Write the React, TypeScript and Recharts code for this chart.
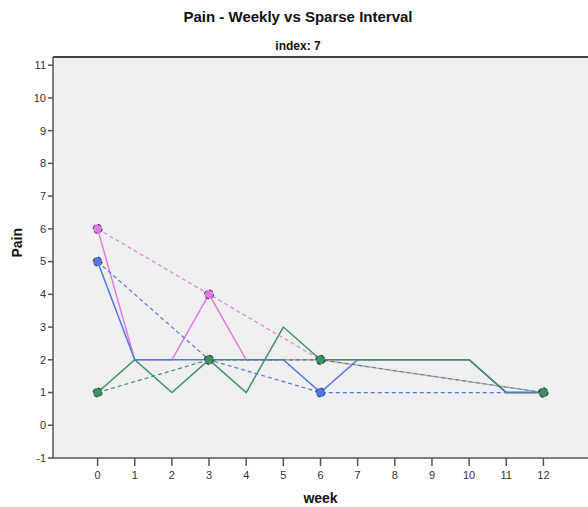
import { LineChart, Line, XAxis, YAxis, CartesianGrid, ReferenceLine } from "recharts";

const weeks = [0, 1, 2, 3, 4, 5, 6, 7, 8, 9, 10, 11, 12];
const pinkWeekly = [6, 2, 2, 4, 2, 2, 2, 2, 2, 2, 2, 1, 1];
const blueWeekly = [5, 2, 2, 2, 2, 2, 1, 2, 2, 2, 2, 1, 1];
const greenWeekly = [1, 2, 1, 2, 1, 3, 2, 2, 2, 2, 2, 1, 1];

const sparseWeeks = [0, 3, 6, 12];
const pinkSparse = [6, 4, 2, 1];
const blueSparse = [5, 2, 1, 1];
const greenSparse = [1, 2, 2, 1];

const xTicks = [0, 1, 2, 3, 4, 5, 6, 7, 8, 9, 10, 11, 12];
const yTicks = [-1, 0, 1, 2, 3, 4, 5, 6, 7, 8, 9, 10, 11];

const PINK = "#e27ae6";
const BLUE = "#4f78e0";
const GREEN = "#3a935f";

const data = weeks.map((w, i) => {
  const s = sparseWeeks.indexOf(w);
  return {
    week: w,
    pinkW: pinkWeekly[i],
    blueW: blueWeekly[i],
    greenW: greenWeekly[i],
    pinkS: s >= 0 ? pinkSparse[s] : null,
    blueS: s >= 0 ? blueSparse[s] : null,
    greenS: s >= 0 ? greenSparse[s] : null,
  };
});

const font = "Arial, 'Liberation Sans', sans-serif";

const dot = (fill: string) => ({ r: 4.5, fill, stroke: "#333", strokeWidth: 1 });

export default function App() {
  return (
    <div style={{ position: "absolute", left: 0, top: 0, width: 588, height: 507, background: "#fff", fontFamily: font }}>
      <LineChart width={588} height={507} data={data} margin={{ top: 57, right: 0, bottom: 0, left: 0 }}>
        <text x={298} y={22} textAnchor="middle" fontSize={15} fontWeight="bold" fill="#111" fontFamily={font}>
          Pain - Weekly vs Sparse Interval
        </text>
        <text x={298} y={50} textAnchor="middle" fontSize={12} fontWeight="bold" fill="#111" fontFamily={font}>
          index: 7
        </text>
        <CartesianGrid horizontal={false} vertical={false} fill="#f0f0f0" />
        <XAxis
          dataKey="week"
          type="number"
          domain={[-1.2, 13.2]}
          ticks={xTicks}
          height={49}
          tickSize={8}
          tickMargin={5}
          stroke="#555"
          strokeWidth={1.5}
          tick={{ fontSize: 11, fill: "#333", fontFamily: font }}
          tickLine={{ stroke: "#555" }}
          label={{ value: "week", position: "insideBottom", offset: 4, fontSize: 14, fontWeight: "bold", fill: "#111", fontFamily: font }}
        />
        <YAxis
          type="number"
          domain={[-1, 11.25]}
          ticks={yTicks}
          width={53}
          tickSize={5}
          stroke="#555"
          strokeWidth={1.5}
          allowDataOverflow
          tick={{ fontSize: 11, fill: "#333", fontFamily: font }}
          label={{ value: "Pain", angle: -90, position: "insideLeft", offset: 17, fontSize: 14, fontWeight: "bold", fill: "#111", fontFamily: font }}
        />
        <ReferenceLine y={11.25} stroke="#444" strokeWidth={2} ifOverflow="visible" />
        <Line dataKey="pinkW" stroke={PINK} strokeWidth={1.5} dot={false} isAnimationActive={false} />
        <Line dataKey="blueW" stroke={BLUE} strokeWidth={1.5} dot={false} isAnimationActive={false} />
        <Line dataKey="greenW" stroke={GREEN} strokeWidth={1.5} dot={false} isAnimationActive={false} />
        <Line dataKey="pinkS" stroke={PINK} strokeWidth={1.2} strokeDasharray="4 3" connectNulls dot={dot(PINK)} isAnimationActive={false} />
        <Line dataKey="blueS" stroke={BLUE} strokeWidth={1.2} strokeDasharray="4 3" connectNulls dot={dot(BLUE)} isAnimationActive={false} />
        <Line dataKey="greenS" stroke={GREEN} strokeWidth={1.2} strokeDasharray="4 3" connectNulls dot={dot(GREEN)} isAnimationActive={false} />
      </LineChart>
    </div>
  );
}
